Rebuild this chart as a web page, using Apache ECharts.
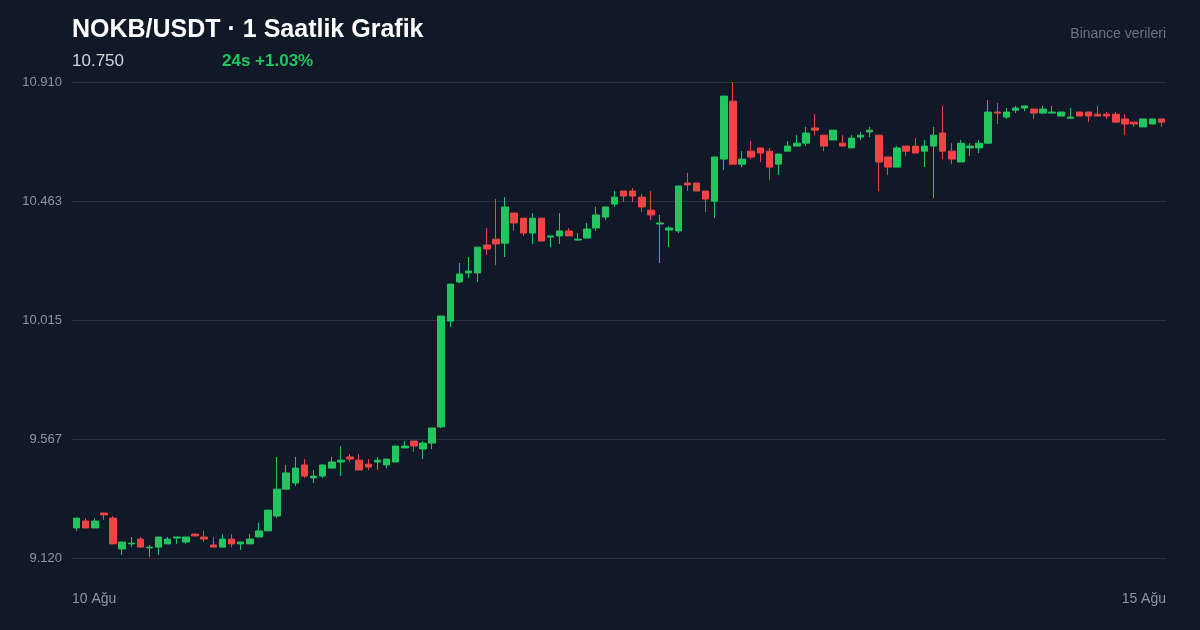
<!DOCTYPE html>
<html><head><meta charset="utf-8">
<script src="https://cdn.jsdelivr.net/npm/echarts@6/dist/echarts.min.js"></script>
<style>html,body{margin:0;padding:0;background:#111827;}#c{width:1200px;height:630px;}</style>
</head><body><div id="c"></div>
<script>
const opens=[9.233,9.259,9.233,9.289,9.270,9.154,9.173,9.191,9.158,9.161,9.173,9.195,9.180,9.210,9.199,9.169,9.161,9.191,9.173,9.173,9.199,9.222,9.278,9.379,9.402,9.470,9.421,9.428,9.458,9.481,9.500,9.488,9.473,9.481,9.470,9.481,9.534,9.560,9.530,9.552,9.613,10.011,10.158,10.192,10.192,10.297,10.319,10.304,10.417,10.398,10.342,10.398,10.327,10.331,10.350,10.316,10.323,10.361,10.402,10.451,10.500,10.500,10.477,10.428,10.376,10.353,10.350,10.530,10.530,10.500,10.462,10.620,10.838,10.601,10.650,10.662,10.650,10.601,10.650,10.669,10.680,10.737,10.710,10.692,10.680,10.662,10.703,10.722,10.710,10.628,10.590,10.669,10.669,10.650,10.669,10.718,10.650,10.609,10.662,10.662,10.680,10.797,10.778,10.804,10.812,10.808,10.793,10.793,10.782,10.774,10.797,10.797,10.789,10.789,10.789,10.771,10.759,10.741,10.752,10.771];
const closes=[9.270,9.233,9.259,9.282,9.173,9.180,9.176,9.161,9.161,9.199,9.191,9.199,9.199,9.203,9.191,9.161,9.191,9.173,9.180,9.191,9.222,9.300,9.379,9.440,9.458,9.428,9.428,9.470,9.481,9.488,9.492,9.451,9.462,9.488,9.492,9.541,9.541,9.541,9.552,9.609,10.030,10.150,10.188,10.199,10.289,10.282,10.301,10.440,10.380,10.342,10.398,10.312,10.331,10.350,10.331,10.319,10.357,10.410,10.440,10.477,10.481,10.481,10.440,10.410,10.380,10.361,10.519,10.523,10.500,10.470,10.628,10.857,10.601,10.620,10.628,10.643,10.590,10.639,10.669,10.680,10.718,10.729,10.669,10.729,10.669,10.699,10.710,10.729,10.609,10.590,10.662,10.650,10.643,10.669,10.710,10.650,10.620,10.680,10.669,10.680,10.797,10.793,10.797,10.812,10.820,10.793,10.808,10.797,10.797,10.778,10.782,10.782,10.782,10.782,10.759,10.752,10.752,10.771,10.771,10.759];
const lows=[9.222,9.233,9.233,9.263,9.173,9.131,9.161,9.161,9.124,9.131,9.173,9.173,9.173,9.203,9.180,9.161,9.161,9.161,9.150,9.173,9.199,9.222,9.270,9.379,9.391,9.421,9.402,9.421,9.458,9.428,9.481,9.451,9.451,9.451,9.458,9.481,9.534,9.519,9.492,9.530,9.609,9.989,10.154,10.173,10.158,10.259,10.222,10.252,10.350,10.331,10.301,10.312,10.289,10.301,10.331,10.312,10.323,10.350,10.391,10.440,10.459,10.459,10.421,10.391,10.229,10.289,10.342,10.500,10.500,10.421,10.398,10.579,10.601,10.590,10.620,10.609,10.541,10.560,10.650,10.669,10.669,10.710,10.650,10.692,10.669,10.662,10.692,10.703,10.500,10.560,10.590,10.632,10.643,10.590,10.474,10.620,10.601,10.609,10.632,10.643,10.680,10.752,10.771,10.793,10.801,10.771,10.793,10.793,10.782,10.774,10.782,10.759,10.782,10.771,10.759,10.710,10.741,10.741,10.752,10.741];
const highs=[9.270,9.270,9.270,9.289,9.278,9.180,9.199,9.199,9.169,9.199,9.199,9.199,9.199,9.210,9.222,9.199,9.210,9.210,9.180,9.210,9.252,9.300,9.500,9.470,9.500,9.492,9.451,9.470,9.500,9.541,9.511,9.511,9.492,9.500,9.492,9.541,9.560,9.560,9.560,9.609,10.030,10.150,10.229,10.252,10.289,10.361,10.470,10.477,10.417,10.398,10.417,10.398,10.331,10.417,10.361,10.342,10.380,10.440,10.440,10.500,10.500,10.511,10.489,10.500,10.410,10.368,10.519,10.568,10.530,10.500,10.628,10.857,10.910,10.650,10.688,10.662,10.662,10.639,10.688,10.710,10.741,10.789,10.710,10.729,10.710,10.710,10.722,10.741,10.710,10.628,10.669,10.669,10.699,10.692,10.741,10.820,10.680,10.692,10.680,10.692,10.842,10.831,10.812,10.820,10.820,10.808,10.820,10.820,10.797,10.812,10.797,10.797,10.820,10.797,10.797,10.789,10.759,10.771,10.771,10.771];
const categories=opens.map((_,i)=>String(i));
const yTicks=[9.120,9.567,10.015,10.463,10.910];
const xLabels=['10 Ağu','15 Ağu'];
const title='NOKB/USDT · 1 Saatlik Grafik';
const lastPrice='10.750';
const change='24s +1.03%';
const source='Binance verileri';

const data=opens.map((o,i)=>[o,closes[i],lows[i],highs[i]]);
const chart=echarts.init(document.getElementById('c'));
chart.setOption({
  backgroundColor:'#111827',
  animation:false,
  grid:{left:72,right:34,top:82,bottom:72},
  xAxis:{type:'category',data:categories,boundaryGap:true,axisLine:{show:false},axisTick:{show:false},axisLabel:{show:false},splitLine:{show:false}},
  yAxis:{type:'value',min:9.120,max:10.910,interval:(10.910-9.120)/4,position:'left',
    axisLine:{show:false},axisTick:{show:false},
    axisLabel:{color:'#8b95a5',fontSize:13,fontFamily:'Liberation Sans, Arial',margin:10,
      formatter:v=>{let best=yTicks[0];for(const t of yTicks){if(Math.abs(t-v)<Math.abs(best-v))best=t;}return best.toFixed(3);}},
    splitLine:{lineStyle:{color:'#263041',width:1}}},
  series:[{type:'candlestick',data:data,barWidth:7,
    itemStyle:{color:'#22c55e',color0:'#ef4444',borderColor:'#22c55e',borderColor0:'#ef4444',borderWidth:1}}],
  graphic:[
    {type:'text',left:72,top:18,style:{text:title,fill:'#ffffff',font:'bold 25px Liberation Sans, Arial'}},
    {type:'text',left:72,top:53,style:{text:lastPrice,fill:'#d1d5db',font:'17px Liberation Sans, Arial'}},
    {type:'text',left:222,top:53,style:{text:change,fill:'#22c55e',font:'bold 17px Liberation Sans, Arial'}},
    {type:'text',right:34,top:27,style:{text:source,fill:'#6b7280',font:'14px Liberation Sans, Arial'}},
    {type:'text',left:72,top:592,style:{text:xLabels[0],fill:'#8b95a5',font:'14px Liberation Sans, Arial'}},
    {type:'text',right:34,top:592,style:{text:xLabels[1],fill:'#8b95a5',font:'14px Liberation Sans, Arial'}}
  ]
});
</script></body></html>
